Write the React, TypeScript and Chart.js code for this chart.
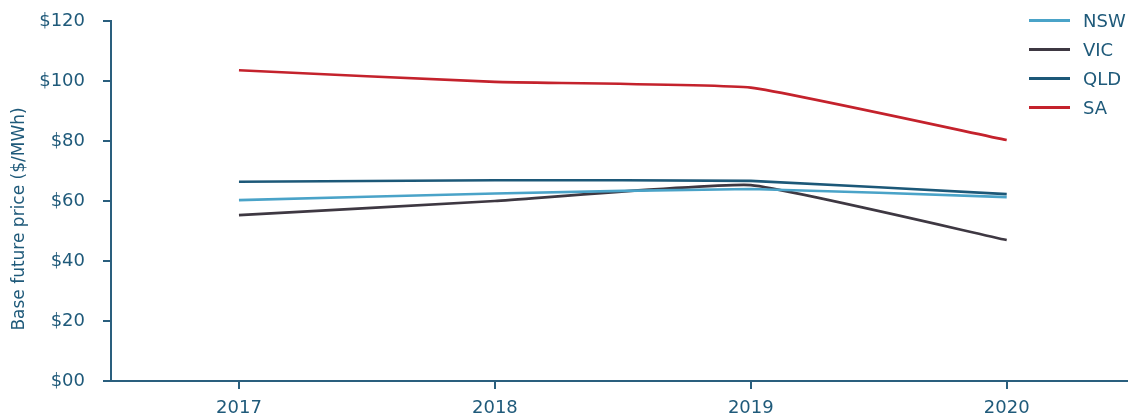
import React, { useEffect, useRef } from 'react';
import { Chart, registerables } from 'chart.js';

Chart.register(...registerables);

const years = [2017, 2018, 2019, 2020];
const nsw = [60.3, 62.5, 64.0, 61.3];
const vic = [55.3, 60.0, 65.3, 47.0];
const qld = [66.4, 66.9, 66.7, 62.3];
const sa = [103.6, 99.7, 97.8, 80.3];
const seriesNames = ['NSW', 'VIC', 'QLD', 'SA'];
const seriesValues = [nsw, vic, qld, sa];
const seriesColors = ['#4AA3C8', '#3E3842', '#1C5878', '#C4222C'];
const yTicks = [0, 20, 40, 60, 80, 100, 120];
const yTickLabels = ['$00', '$20', '$40', '$60', '$80', '$100', '$120'];
const yTitle = 'Base future price ($/MWh)';

const TEXT = '#1F5A7A';
const AXIS = '#2A5F7E';
const FONT = "'DejaVu Sans', sans-serif";

const yTitlePlugin = {
  id: 'yTitlePlugin',
  afterDraw(chart: any) {
    const ctx = chart.ctx;
    ctx.save();
    ctx.translate(20, 219);
    ctx.rotate(-Math.PI / 2);
    ctx.fillStyle = TEXT;
    ctx.font = `17px ${FONT}`;
    ctx.textAlign = 'center';
    ctx.textBaseline = 'middle';
    ctx.fillText(yTitle, 0, 0);
    ctx.restore();
  },
};

export default function App() {
  const ref = useRef<HTMLCanvasElement | null>(null);

  useEffect(() => {
    if (!ref.current) return;
    const chart = new Chart(ref.current, {
      type: 'line',
      data: {
        datasets: seriesNames.map((name, i) => ({
          label: name,
          data: years.map((yr, j) => ({ x: yr, y: seriesValues[i][j] })),
          borderColor: seriesColors[i],
          backgroundColor: seriesColors[i],
          borderWidth: 2.6,
          pointRadius: 0,
          tension: 0.12,
          fill: false,
        })),
      },
      options: {
        animation: false,
        responsive: false,
        maintainAspectRatio: false,
        layout: { padding: { top: 21, right: 6, left: 0, bottom: 0 } },
        plugins: {
          legend: { display: false },
          tooltip: { enabled: false },
        },
        scales: {
          x: {
            type: 'linear',
            min: 2016.5,
            max: 2020.47,
            afterBuildTicks: (s: any) => {
              s.ticks = years.map((v) => ({ value: v }));
            },
            afterFit: (s: any) => {
              s.height = 38;
              s.paddingLeft = 0;
              s.paddingRight = 0;
            },
            ticks: {
              callback: (v: any) => String(v),
              color: TEXT,
              font: { family: FONT, size: 18 },
              padding: 9,
              maxRotation: 0,
            },
            grid: {
              drawOnChartArea: false,
              drawTicks: true,
              tickLength: 8,
              color: AXIS,
              lineWidth: 2,
            },
            border: { display: true, color: AXIS, width: 2 },
          },
          y: {
            min: 0,
            max: 120,
            afterBuildTicks: (s: any) => {
              s.ticks = yTicks.map((v) => ({ value: v }));
            },
            afterFit: (s: any) => {
              s.width = 111;
              s.paddingTop = 0;
              s.paddingBottom = 0;
            },
            ticks: {
              callback: (v: any) => yTickLabels[yTicks.indexOf(Number(v))] ?? '',
              color: TEXT,
              font: { family: FONT, size: 18 },
              padding: 18,
            },
            grid: {
              drawOnChartArea: false,
              drawTicks: true,
              tickLength: 8,
              color: AXIS,
              lineWidth: 2,
            },
            border: { display: true, color: AXIS, width: 2 },
          },
        },
      },
      plugins: [yTitlePlugin],
    } as any);
    return () => chart.destroy();
  }, []);

  return (
    <div style={{ position: 'fixed', left: 0, top: 0, width: 1133, height: 419, background: '#fff' }}>
      <canvas ref={ref} width={1133} height={419} style={{ display: 'block' }} />
      <div style={{ position: 'absolute', left: 1029, top: 6, fontFamily: FONT, fontSize: 18, color: TEXT }}>
        {seriesNames.map((name, i) => (
          <div key={name} style={{ display: 'flex', alignItems: 'center', height: 29 }}>
            <div style={{ width: 41, height: 3, background: seriesColors[i], marginRight: 13 }} />
            <span>{name}</span>
          </div>
        ))}
      </div>
    </div>
  );
}
